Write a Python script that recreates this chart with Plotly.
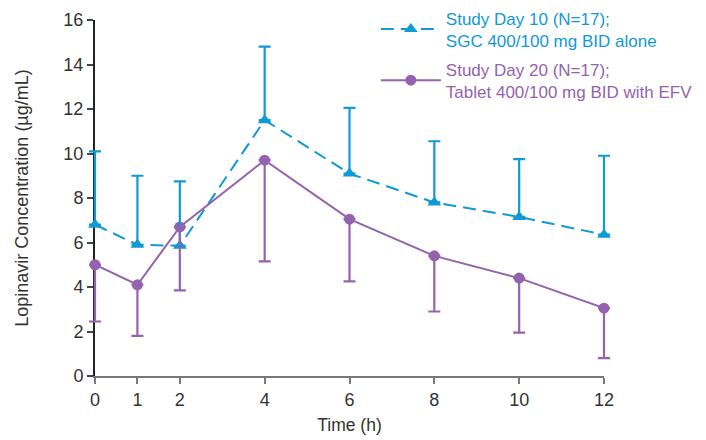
import plotly.graph_objects as go

time_h = [0, 1, 2, 4, 6, 8, 10, 12]
day10_mean = [6.8, 5.9, 5.85, 11.5, 9.1, 7.8, 7.15, 6.35]
day10_upper = [10.1, 9.0, 8.75, 14.8, 12.05, 10.55, 9.75, 9.9]
day20_mean = [5.0, 4.1, 6.7, 9.7, 7.05, 5.4, 4.4, 3.05]
day20_lower = [2.45, 1.8, 3.85, 5.15, 4.25, 2.9, 1.95, 0.8]

x_ticks = [0, 1, 2, 4, 6, 8, 10, 12]
y_ticks = [0, 2, 4, 6, 8, 10, 12, 14, 16]

BLUE = "#1199d6"
PURPLE = "#9463ad"
FONT = "Liberation Sans, Arial, sans-serif"

# layout geometry (pixels); page body has an 8px default margin
W, H = 698, 432
AX_L, AX_R = 87, 102          # margins of the visible axes box
AX_T, AX_B = 12, 64
PAD = 20                      # extra room so error bars at the ends are not clipped
area_w = W - AX_L - AX_R + 2 * PAD
inner_w = W - AX_L - AX_R
x_lo, x_hi = 0, 12
px_per_unit = inner_w / (x_hi - x_lo)
pad_units = PAD / px_per_unit

fig = go.Figure()
# error bars on a second, slightly wider x-axis with identical scale (not clipped at the ends)
fig.add_trace(go.Scatter(
    x=time_h, y=day10_mean, mode="markers", xaxis="x2", yaxis="y", showlegend=False, hoverinfo="skip",
    marker=dict(size=1, color="rgba(0,0,0,0)"),
    error_y=dict(type="data", symmetric=False,
                 array=[u - m for u, m in zip(day10_upper, day10_mean)],
                 arrayminus=[0] * len(day10_mean),
                 color=BLUE, thickness=2.2, width=6),
))
fig.add_trace(go.Scatter(
    x=time_h, y=day20_mean, mode="markers", xaxis="x2", yaxis="y", showlegend=False, hoverinfo="skip",
    marker=dict(size=1, color="rgba(0,0,0,0)"),
    error_y=dict(type="data", symmetric=False,
                 array=[0] * len(day20_mean),
                 arrayminus=[m - l for m, l in zip(day20_mean, day20_lower)],
                 color=PURPLE, thickness=2.2, width=6),
))
fig.add_trace(go.Scatter(
    x=time_h, y=day10_mean, mode="lines+markers", cliponaxis=False, legendgroup="a",
    name=f"<span style='color:{BLUE}'>Study Day 10 (N=17);</span><br><span style='color:{BLUE}'>SGC 400/100 mg BID alone</span>",
    line=dict(color=BLUE, width=2, dash="13px,7px"),
    marker=dict(symbol="triangle-up", size=12, color=BLUE),
))
fig.add_trace(go.Scatter(
    x=time_h, y=day20_mean, mode="lines+markers", cliponaxis=False, legendgroup="b",
    name=f"<span style='color:{PURPLE}'>Study Day 20 (N=17);</span><br><span style='color:{PURPLE}'>Tablet 400/100 mg BID with EFV</span>",
    line=dict(color=PURPLE, width=2),
    marker=dict(symbol="circle", size=11, color=PURPLE),
))

fig.update_layout(
    width=W, height=H,
    margin=dict(l=AX_L - PAD, r=AX_R - PAD, t=AX_T, b=AX_B, autoexpand=False),
    paper_bgcolor="white", plot_bgcolor="rgba(0,0,0,0)",
    font=dict(family=FONT, size=18, color="#333333"),
    showlegend=True,
    legend=dict(x=0.548, y=1.055, xanchor="left", yanchor="top",
                font=dict(family=FONT, size=17),
                bgcolor="rgba(0,0,0,0)", tracegroupgap=4, traceorder="grouped",
                itemwidth=60),
    xaxis=dict(domain=[PAD / area_w, (PAD + inner_w) / area_w], anchor="y",
               range=[x_lo, x_hi], tickvals=x_ticks, ticktext=[str(v) for v in x_ticks],
               showgrid=False, zeroline=False, showline=True, linecolor="#777777", linewidth=2,
               ticks="outside", ticklen=6, tickwidth=2, tickcolor="#777777", layer="below traces",
               title=dict(text="Time (h)", font=dict(size=17.5), standoff=10)),
    xaxis2=dict(domain=[0, 1], range=[x_lo - pad_units, x_hi + pad_units],
                anchor="y", visible=False, showgrid=False, zeroline=False),
    yaxis=dict(anchor="x", range=[0, 16], tickvals=y_ticks, ticktext=[str(v) for v in y_ticks],
               showgrid=False, zeroline=False, showline=True, linecolor="#222222", linewidth=2,
               ticks="outside", ticklen=6, tickwidth=2, tickcolor="#444444", layer="below traces",
               title=dict(text="Lopinavir Concentration (µg/mL)", font=dict(size=18), standoff=30)),
)

fig.write_html("out.html")
